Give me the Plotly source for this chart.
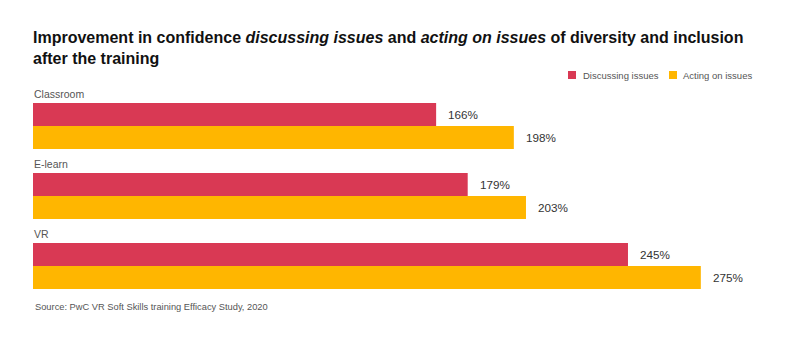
import plotly.graph_objects as go

categories = ["Classroom", "E-learn", "VR"]
discussing = [166, 179, 245]
acting = [198, 203, 275]
series_names = ["Discussing issues", "Acting on issues"]
colors = ["#D93954", "#FFB600"]

FONT = "Liberation Sans, Arial, sans-serif"

# plot area geometry (pixels) used to place legend items in paper space
L, R, T, B = 33, 20, 91, 42
W, H = 800 - L - R, 343 - T - B

fig = go.Figure()
for name, vals, col in zip(series_names, [discussing, acting], colors):
    fig.add_trace(go.Bar(
        y=categories, x=vals, name=name, orientation="h",
        marker=dict(color=col, line=dict(width=0)),
        hoverinfo="skip", showlegend=False,
    ))

# value labels and category labels
for i, cat in enumerate(categories):
    for j, vals in enumerate([discussing, acting]):
        fig.add_annotation(
            x=vals[i], y=cat, xref="x", yref="y",
            text=f"{vals[i]}%", showarrow=False,
            xanchor="left", xshift=10, yshift=(11.5 if j == 0 else -11.5),
            font=dict(family=FONT, size=11.7, color="#333333"),
        )
    fig.add_annotation(
        x=0, y=cat, xref="x", yref="y", text=cat, showarrow=False,
        xanchor="left", yanchor="bottom", yshift=24, xshift=-1,
        font=dict(family=FONT, size=10.5, color="#555555"),
    )

# manual legend (swatch + text), placed in paper coordinates
legend_px = [(568, 581), (669, 681)]
legend_y = 75
for (sx, tx), name, col in zip(legend_px, series_names, colors):
    fig.add_shape(
        type="rect", xref="paper", yref="paper",
        x0=(sx - L) / W, x1=(sx + 8 - L) / W,
        y0=(343 - B - (legend_y + 4)) / H, y1=(343 - B - (legend_y - 4)) / H,
        fillcolor=col, line=dict(width=0),
    )
    fig.add_annotation(
        x=(tx - L) / W, y=(343 - B - legend_y) / H, xref="paper", yref="paper",
        xanchor="left", yanchor="middle", text=name, showarrow=False,
        font=dict(family=FONT, size=9.5, color="#555555"),
    )

fig.add_annotation(
    x=0, y=(343 - B - 307) / H, xref="paper", yref="paper", yanchor="middle", xanchor="left",
    text="Source: PwC VR Soft Skills training Efficacy Study, 2020",
    showarrow=False, font=dict(family=FONT, size=9.3, color="#555555"),
)

fig.update_layout(
    width=800, height=343,
    margin=dict(l=L, r=R, t=T, b=B),
    paper_bgcolor="white", plot_bgcolor="white",
    barmode="group", bargap=0.343, bargroupgap=0,
    title=dict(
        text="<b>Improvement in confidence <i>discussing issues</i> and <i>acting on issues</i> of diversity and inclusion<br>after the training</b>",
        x=0, xref="paper", xanchor="left", y=0.875, yanchor="top", yref="container",
        font=dict(family=FONT, size=16, color="#111111"),
    ),
    xaxis=dict(range=[0, 307.6], visible=False, fixedrange=True),
    yaxis=dict(range=[2.5, -0.5], visible=False, fixedrange=True),
    showlegend=False,
)

fig.write_html("out.html")
